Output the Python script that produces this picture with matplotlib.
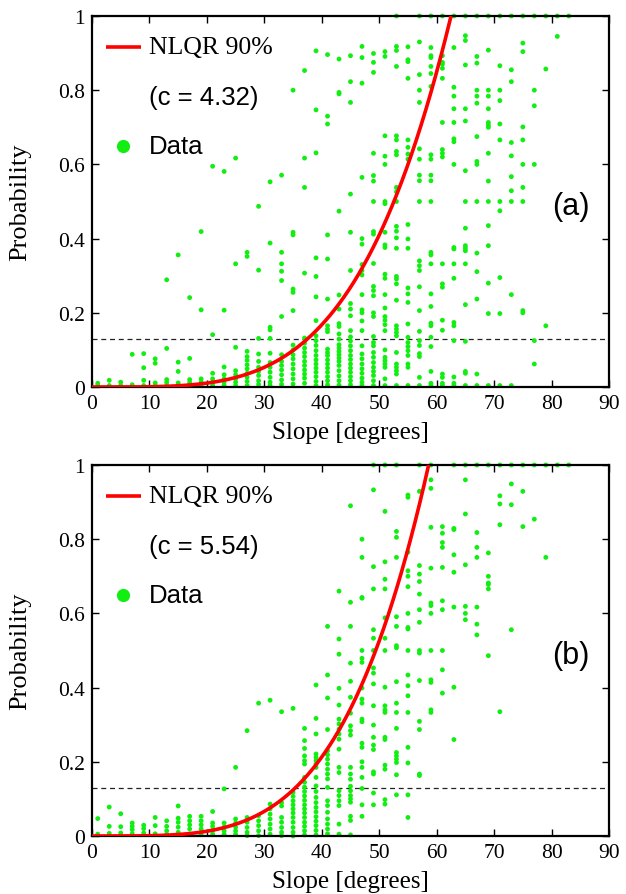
import matplotlib
matplotlib.use("Agg")
import matplotlib.pyplot as plt
import numpy as np
from matplotlib.lines import Line2D

plt.rcParams['font.family'] = 'serif'
plt.rcParams['font.serif'] = ['Liberation Serif', 'DejaVu Serif']

# slope bins (degrees) shared by both panels
slopes = list(range(1, 85, 2))

# panel (a): probability values per slope bin
probs_a = [
    [0.004, 0.01],
    [0.004, 0.018],
    [0.004, 0.013],
    [0.006, 0.088],
    [0.004, 0.018, 0.052, 0.09],
    [0.004, 0.011, 0.064, 0.076],
    [0.004, 0.012, 0.02, 0.104, 0.289],
    [0.011, 0.042, 0.067, 0.356],
    [0.004, 0.012, 0.02, 0.077, 0.241],
    [0.004, 0.013, 0.022, 0.208, 0.419],
    [0.004, 0.013, 0.022, 0.037, 0.141, 0.595],
    [0.004, 0.013, 0.022, 0.033, 0.054, 0.207, 0.581],
    [0.004, 0.013, 0.022, 0.033, 0.044, 0.107, 0.332, 0.617],
    [0.004, 0.015, 0.026, 0.037, 0.049, 0.06, 0.072, 0.082, 0.096, 0.352, 0.363],
    [0.007, 0.017, 0.031, 0.042, 0.053, 0.069, 0.089, 0.131, 0.315, 0.487],
    [0.004, 0.013, 0.026, 0.04, 0.053, 0.066, 0.091, 0.131, 0.154, 0.161, 0.388, 0.553],
    [0.007, 0.019, 0.033, 0.046, 0.058, 0.069, 0.087, 0.19, 0.287, 0.312, 0.332, 0.363, 0.571],
    [0.008, 0.022, 0.035, 0.049, 0.062, 0.076, 0.087, 0.1, 0.113, 0.206, 0.255, 0.264, 0.41, 0.417, 0.8],
    [0.01, 0.024, 0.035, 0.046, 0.058, 0.069, 0.082, 0.093, 0.105, 0.118, 0.132, 0.307, 0.538, 0.617, 0.853],
    [0.004, 0.015, 0.028, 0.04, 0.051, 0.062, 0.073, 0.085, 0.098, 0.112, 0.125, 0.138, 0.179, 0.243,
     0.298, 0.348, 0.631, 0.747, 0.906],
    [0.006, 0.017, 0.028, 0.04, 0.051, 0.062, 0.073, 0.085, 0.093, 0.102, 0.149, 0.156, 0.165, 0.237,
     0.345, 0.41, 0.709, 0.73, 0.896],
    [0.005, 0.017, 0.03, 0.044, 0.058, 0.069, 0.078, 0.087, 0.096, 0.105, 0.114, 0.129, 0.143, 0.163,
     0.171, 0.21, 0.248, 0.474, 0.79, 0.794, 0.884],
    [0.006, 0.017, 0.028, 0.04, 0.051, 0.062, 0.074, 0.085, 0.098, 0.111, 0.124, 0.135, 0.152, 0.192,
     0.21, 0.225, 0.314, 0.417, 0.52, 0.767, 0.823, 0.893],
    [0.004, 0.013, 0.024, 0.037, 0.049, 0.062, 0.076, 0.089, 0.111, 0.152, 0.178, 0.2, 0.208, 0.249,
     0.302, 0.314, 0.33, 0.385, 0.4, 0.565, 0.819, 0.888, 0.918],
    [0.004, 0.017, 0.031, 0.042, 0.053, 0.066, 0.08, 0.093, 0.111, 0.12, 0.136, 0.19, 0.2, 0.246, 0.26,
     0.271, 0.333, 0.412, 0.419, 0.5, 0.555, 0.57, 0.63, 0.848, 0.875, 0.899],
    [0.004, 0.022, 0.053, 0.062, 0.071, 0.08, 0.1, 0.152, 0.168, 0.18, 0.19, 0.213, 0.249, 0.293, 0.304,
     0.376, 0.383, 0.417, 0.494, 0.5, 0.6, 0.622, 0.677, 0.891, 0.904],
    [0.004, 0.035, 0.044, 0.053, 0.062, 0.093, 0.138, 0.147, 0.156, 0.165, 0.234, 0.278, 0.291, 0.298,
     0.374, 0.402, 0.42, 0.433, 0.5, 0.526, 0.538, 0.626, 0.635, 0.666, 0.677, 0.864, 0.907, 0.918, 1.0],
    [0.004, 0.053, 0.062, 0.085, 0.098, 0.109, 0.12, 0.134, 0.17, 0.228, 0.251, 0.267, 0.374, 0.399,
     0.438, 0.614, 0.628, 0.646, 0.666, 0.832, 0.877, 0.882, 0.917],
    [0.004, 0.026, 0.082, 0.09, 0.112, 0.125, 0.15, 0.206, 0.27, 0.314, 0.327, 0.34, 0.5, 0.556, 0.571,
     0.614, 0.642, 0.767, 0.8, 0.842, 0.93, 1.0],
    [0.004, 0.01, 0.042, 0.109, 0.134, 0.165, 0.172, 0.217, 0.251, 0.332, 0.356, 0.363, 0.5, 0.556, 0.571,
     0.614, 0.626, 0.81, 0.845, 0.864, 0.888, 0.893, 0.915, 1.0],
    [0.004, 0.01, 0.026, 0.035, 0.153, 0.18, 0.269, 0.278, 0.332, 0.62, 0.63, 0.64, 0.713, 0.832, 0.859,
     0.87, 0.875, 0.893, 1.0],
    [0.004, 0.01, 0.027, 0.125, 0.165, 0.174, 0.293, 0.332, 0.372, 0.376, 0.6, 0.661, 0.669, 0.713, 0.75,
     0.784, 0.808, 0.915, 1.0],
    [0.004, 0.037, 0.042, 0.123, 0.222, 0.332, 0.367, 0.374, 0.381, 0.428, 0.5, 0.583, 0.717, 0.75, 0.868,
     0.934, 0.947, 1.0],
    [0.004, 0.035, 0.237, 0.311, 0.361, 0.5, 0.6, 0.608, 0.675, 0.765, 0.784, 0.8, 0.873, 0.891, 1.0],
    [0.004, 0.198, 0.28, 0.381, 0.435, 0.5, 0.555, 0.63, 0.7, 0.706, 0.713, 0.75, 0.784, 0.8, 0.908, 1.0],
    [0.004, 0.198, 0.295, 0.475, 0.5, 0.666, 0.709, 0.772, 0.8, 0.866, 1.0],
    [0.004, 0.249, 0.5, 0.529, 0.567, 0.623, 0.659, 0.823, 0.855, 1.0],
    [0.2, 0.206, 0.5, 0.538, 0.6, 0.666, 0.701, 0.904, 0.927, 1.0],
    [0.062, 0.125, 0.6, 0.758, 0.8, 1.0],
    [0.165, 0.857, 1.0],
    [0.945, 1.0],
    [1.0],
]

# panel (b): probability values per slope bin
probs_b = [
    [0.005, 0.047],
    [0.007, 0.026, 0.078],
    [0.008, 0.025, 0.06],
    [0.006, 0.017, 0.026, 0.035],
    [0.008, 0.02, 0.029],
    [0.006, 0.028, 0.05],
    [0.005, 0.014, 0.026, 0.041],
    [0.01, 0.024, 0.037, 0.048, 0.081],
    [0.005, 0.019, 0.03, 0.041, 0.053],
    [0.006, 0.019, 0.03, 0.041, 0.053],
    [0.005, 0.014, 0.026, 0.035, 0.066],
    [0.005, 0.014, 0.024, 0.035, 0.127],
    [0.005, 0.014, 0.024, 0.035, 0.046, 0.185],
    [0.001, 0.01, 0.023, 0.037, 0.05, 0.284],
    [0.001, 0.014, 0.028, 0.041, 0.055, 0.358],
    [0.005, 0.019, 0.032, 0.046, 0.059, 0.073, 0.086, 0.366],
    [0.001, 0.01, 0.023, 0.037, 0.05, 0.081, 0.09, 0.335],
    [0.0, 0.01, 0.023, 0.037, 0.05, 0.062, 0.073, 0.084, 0.095, 0.107, 0.118, 0.344],
    [0.003, 0.014, 0.026, 0.037, 0.05, 0.062, 0.073, 0.084, 0.096, 0.108, 0.12, 0.132, 0.145, 0.158,
     0.194, 0.203, 0.216, 0.236, 0.257, 0.29],
    [0.003, 0.015, 0.028, 0.04, 0.052, 0.065, 0.077, 0.09, 0.104, 0.12, 0.135, 0.158, 0.185, 0.194,
     0.203, 0.212, 0.221, 0.275, 0.317, 0.407],
    [0.006, 0.019, 0.032, 0.046, 0.064, 0.082, 0.095, 0.131, 0.154, 0.167, 0.18, 0.194, 0.207, 0.219,
     0.23, 0.287, 0.372, 0.434, 0.565],
    [0.005, 0.032, 0.082, 0.095, 0.109, 0.122, 0.171, 0.185, 0.234, 0.261, 0.275, 0.288, 0.302, 0.315,
     0.353, 0.398, 0.49, 0.531, 0.66],
    [0.003, 0.042, 0.053, 0.091, 0.1, 0.109, 0.122, 0.134, 0.153, 0.167, 0.185, 0.272, 0.284, 0.297,
     0.331, 0.374, 0.417, 0.466, 0.565, 0.63, 0.89],
    [0.053, 0.084, 0.128, 0.158, 0.185, 0.2, 0.239, 0.25, 0.308, 0.315, 0.358, 0.369, 0.399, 0.468,
     0.479, 0.5, 0.641, 0.643, 0.751, 0.8],
    [0.084, 0.116, 0.167, 0.173, 0.233, 0.245, 0.266, 0.299, 0.351, 0.41, 0.439, 0.453, 0.5, 0.533,
     0.556, 0.666, 0.726, 0.933, 1.0],
    [0.086, 0.098, 0.18, 0.191, 0.26, 0.266, 0.333, 0.34, 0.351, 0.401, 0.5, 0.533, 0.588, 0.666, 0.692,
     0.739, 0.875, 1.0],
    [0.111, 0.165, 0.198, 0.207, 0.216, 0.225, 0.29, 0.333, 0.358, 0.416, 0.507, 0.513, 0.565, 0.591,
     0.751, 0.805, 0.821, 1.0],
    [0.05, 0.111, 0.197, 0.239, 0.333, 0.378, 0.405, 0.434, 0.5, 0.558, 0.562, 0.6, 0.672, 0.7, 0.715,
     0.765, 0.913, 0.919],
    [0.163, 0.167, 0.287, 0.309, 0.419, 0.493, 0.5, 0.576, 0.61, 0.652, 0.686, 0.706, 0.729, 0.929, 1.0],
    [0.333, 0.34, 0.414, 0.421, 0.5, 0.6, 0.621, 0.628, 0.722, 0.832, 0.937, 0.96, 1.0],
    [0.385, 0.448, 0.5, 0.61, 0.634, 0.724, 0.778, 0.791, 0.816, 0.834],
    [0.26, 0.401, 0.617, 0.711, 0.758, 0.826, 0.829, 1.0],
    [0.583, 0.6, 0.619, 0.731, 0.868, 0.96, 1.0],
    [0.542, 0.571, 0.617, 0.751, 0.778, 0.818, 1.0],
    [0.486, 0.666, 0.678, 0.682, 0.7, 0.763, 1.0],
    [0.335, 0.839, 0.895, 0.917, 1.0],
    [0.556, 0.893, 0.949, 1.0],
    [0.834, 0.929, 1.0],
    [0.854, 1.0],
    [0.751, 1.0],
    [1.0],
    [1.0],
]

# fitted NLQR 90% curves: p = (slope / slope_at_p1) ** exponent
curve_slope_at_p1 = [62.5, 58.6]
curve_exponent = [4.0, 4.05]
c_labels = ["4.32", "5.54"]
panel_labels = ["(a)", "(b)"]
threshold = 0.13

x_ticks = list(range(0, 91, 10))
y_ticks = [0, 0.2, 0.4, 0.6, 0.8, 1]
y_ticklabels = ["0", "0.2", "0.4", "0.6", "0.8", "1"]

GREEN = '#11ee11'
RED = '#ff0000'

fig = plt.figure(figsize=(6.26, 8.95), dpi=100)
ax_rects = [[92 / 626, 1 - 388 / 895, 517 / 626, 371 / 895],
            [92 / 626, 1 - 837 / 895, 517 / 626, 371 / 895]]

for i, probs in enumerate([probs_a, probs_b]):
    ax = fig.add_axes(ax_rects[i])
    xs = []
    ys = []
    for s, col in zip(slopes, probs):
        xs.extend([s] * len(col))
        ys.extend(col)
    ax.scatter(xs, ys, s=12, color=GREEN, edgecolors='none', zorder=2, clip_on=False)
    ax.axhline(threshold, color='#222222', lw=0.9, ls=(0, (4, 3)), zorder=1)
    xc = np.linspace(0, curve_slope_at_p1[i], 300)
    yc = (xc / curve_slope_at_p1[i]) ** curve_exponent[i]
    ax.plot(xc, yc, color=RED, lw=2.6, zorder=3, solid_capstyle='butt')

    ax.set_xlim(0, 90)
    ax.set_ylim(0, 1)
    ax.set_xticks(x_ticks)
    ax.set_yticks(y_ticks)
    ax.set_yticklabels(y_ticklabels)
    ax.tick_params(direction='in', top=True, right=True, length=5, width=1,
                   labelsize=15.5, pad=5)
    for sp in ax.spines.values():
        sp.set_linewidth(1.6)
    ax.set_xlabel("Slope [degrees]", fontsize=18, labelpad=6)
    ax.set_ylabel("Probability", fontsize=19)
    ax.yaxis.set_label_coords(-0.118, 0.5)

    # legend drawn manually
    ax.add_line(Line2D([0.027, 0.095], [0.917, 0.917], transform=ax.transAxes,
                       color=RED, lw=2.6, solid_capstyle='butt'))
    ax.text(0.110, 0.917, "NLQR 90%", transform=ax.transAxes, fontsize=18.5,
            va='center', ha='left')
    ax.text(0.110, 0.782, "(c = %s)" % c_labels[i], transform=ax.transAxes,
            fontsize=18.5, va='center', ha='left', family='Liberation Sans')
    ax.plot([0.06], [0.65], 'o', transform=ax.transAxes, color=GREEN,
            markersize=9.5, markeredgewidth=0)
    ax.text(0.110, 0.65, "Data", transform=ax.transAxes, fontsize=18.5,
            va='center', ha='left', family='Liberation Sans')
    ax.text(0.927, 0.488, panel_labels[i], transform=ax.transAxes, fontsize=22,
            va='center', ha='center', family='Liberation Sans')

fig.savefig("out.png", dpi=100)
